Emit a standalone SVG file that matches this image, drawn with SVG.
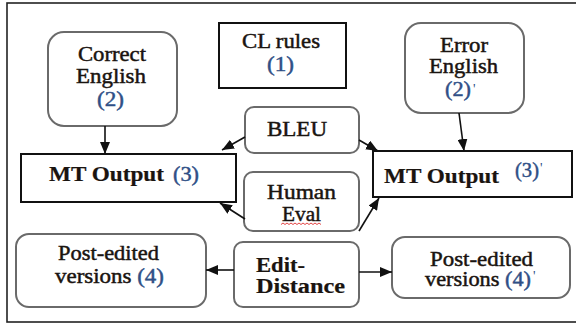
<svg xmlns="http://www.w3.org/2000/svg" width="576" height="324" viewBox="0 0 576 324">
<defs>
<style>
.frame{fill:none;stroke:#222;stroke-width:1.6}
.sq{fill:#fff;stroke:#111;stroke-width:2}
.rd{fill:#fff;stroke:#6a6a6a;stroke-width:2}
.t{font-family:"Liberation Serif",serif;font-size:20px;fill:#1a1410;stroke:#1a1410;stroke-width:0.45}
.b{font-weight:bold;stroke-width:0.2}
.n{fill:#2f4f86;stroke:#2f4f86}
.p{font-family:"Liberation Serif",serif;font-size:14px;fill:#2f4f86}
.c{stroke:#111;stroke-width:1.6;fill:none;marker-end:url(#ah)}
</style>
<marker id="ah" markerUnits="userSpaceOnUse" markerWidth="12" markerHeight="10" refX="12" refY="5" orient="auto">
<path d="M0,0 L12,5 L0,10 z" fill="#111"/>
</marker>
</defs>
<rect width="576" height="324" fill="#fff"/>
<rect class="frame" x="7" y="3" width="575" height="319"/>

<g id="correct-english">
<rect class="rd" x="48" y="32" width="129" height="94" rx="16"/>
<text class="t" x="78" y="61" textLength="68" lengthAdjust="spacingAndGlyphs">Correct</text>
<text class="t" x="76" y="83" textLength="70" lengthAdjust="spacingAndGlyphs">English</text>
<text class="t n" x="97" y="106" textLength="27" lengthAdjust="spacingAndGlyphs">(2)</text>
</g>

<g id="cl-rules">
<rect class="sq" x="219" y="23" width="127" height="65"/>
<text class="t" x="242" y="48" textLength="78" lengthAdjust="spacingAndGlyphs">CL rules</text>
<text class="t n" x="267" y="71" textLength="27" lengthAdjust="spacingAndGlyphs">(1)</text>
</g>

<g id="error-english">
<rect class="rd" x="405" y="23" width="119" height="90" rx="16"/>
<text class="t" x="440" y="52" textLength="48" lengthAdjust="spacingAndGlyphs">Error</text>
<text class="t" x="429" y="73" textLength="69" lengthAdjust="spacingAndGlyphs">English</text>
<text class="t n" x="445" y="96" textLength="26" lengthAdjust="spacingAndGlyphs">(2)</text>
<text class="p" x="473" y="94">'</text>
</g>

<g id="bleu">
<rect class="rd" x="245" y="107" width="114" height="46" rx="9"/>
<text class="t" x="267" y="136" textLength="60" lengthAdjust="spacingAndGlyphs">BLEU</text>
</g>

<g id="mt-output-left">
<rect class="sq" x="21" y="154" width="215" height="48"/>
<text class="t b" x="49" y="181" textLength="115" lengthAdjust="spacingAndGlyphs">MT Output</text>
<text class="t n" x="173" y="181" textLength="26" lengthAdjust="spacingAndGlyphs">(3)</text>
</g>

<g id="mt-output-right">
<rect class="sq" x="373" y="151" width="199" height="46"/>
<text class="t b" x="384" y="183" textLength="115" lengthAdjust="spacingAndGlyphs">MT Output</text>
<text class="t n" x="515" y="177" textLength="24" lengthAdjust="spacingAndGlyphs">(3)</text>
<text class="p" x="540" y="173">'</text>
</g>

<g id="human-eval">
<rect class="rd" x="244" y="172" width="115" height="59" rx="9"/>
<text class="t" x="267" y="199" textLength="69" lengthAdjust="spacingAndGlyphs">Human</text>
<text class="t" x="282" y="221" textLength="39" lengthAdjust="spacingAndGlyphs">Eval</text>
<path d="M281,224.5 l2,-1.5 l2,1.5 l2,-1.5 l2,1.5 l2,-1.5 l2,1.5 l2,-1.5 l2,1.5 l2,-1.5 l2,1.5 l2,-1.5 l2,1.5 l2,-1.5 l2,1.5 l2,-1.5 l2,1.5 l2,-1.5 l2,1.5 l2,-1.5 l2,1.5" fill="none" stroke="#e03030" stroke-width="0.9"/>
</g>

<g id="edit-distance">
<rect class="rd" x="234" y="242" width="125" height="65" rx="9"/>
<text class="t b" x="256" y="272" textLength="49" lengthAdjust="spacingAndGlyphs">Edit-</text>
<text class="t b" x="256" y="293" textLength="89" lengthAdjust="spacingAndGlyphs">Distance</text>
</g>

<g id="post-edited-left">
<rect class="rd" x="16" y="234" width="190" height="73" rx="13"/>
<text class="t" x="58" y="260" textLength="101" lengthAdjust="spacingAndGlyphs">Post-edited</text>
<text class="t" x="55" y="283" textLength="109" lengthAdjust="spacingAndGlyphs">versions <tspan class="n">(4)</tspan></text>
</g>

<g id="post-edited-right">
<rect class="rd" x="392" y="237" width="178" height="61" rx="13"/>
<text class="t" x="430" y="266" textLength="103" lengthAdjust="spacingAndGlyphs">Post-edited</text>
<text class="t" x="425" y="286" textLength="106" lengthAdjust="spacingAndGlyphs">versions <tspan class="n">(4)</tspan></text>
<text class="p" x="533" y="281">'</text>
</g>

<g id="connectors">
<line class="c" x1="105" y1="126" x2="105" y2="154"/>
<line class="c" x1="459" y1="113" x2="464" y2="151"/>
<line class="c" x1="245" y1="137" x2="222" y2="150"/>
<line class="c" x1="359" y1="140" x2="378" y2="151"/>
<line class="c" x1="245" y1="219" x2="220" y2="203"/>
<line class="c" x1="359" y1="231" x2="379" y2="198"/>
<line class="c" x1="234" y1="270" x2="206" y2="270"/>
<line class="c" x1="359" y1="272" x2="392" y2="272"/>
</g>
</svg>
